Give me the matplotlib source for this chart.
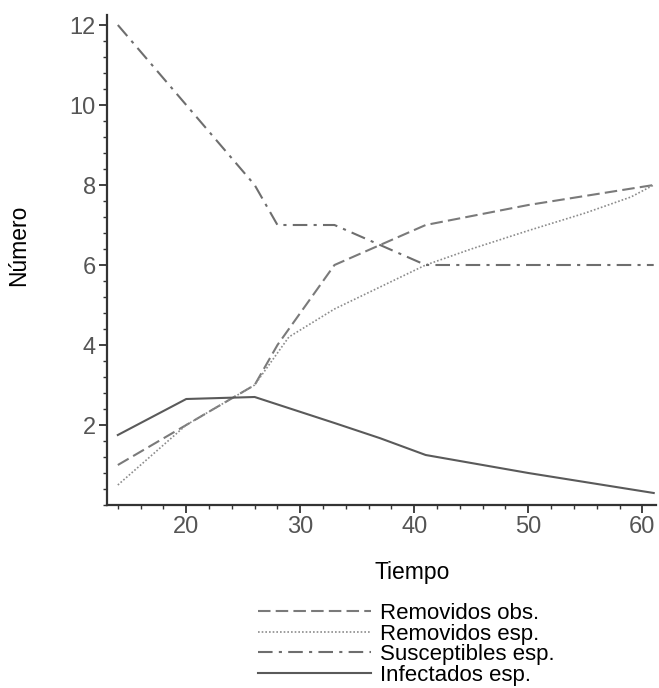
import matplotlib.pyplot as plt
from matplotlib.ticker import MultipleLocator

plt.rcParams['font.family'] = ['Liberation Sans', 'DejaVu Sans']

# Removidos observados
t_obs = [14, 20, 26, 28, 33, 41, 50, 61]
rem_obs = [1.0, 2.0, 3.0, 4.0, 6.0, 7.0, 7.5, 8.0]

# Removidos esperados
t_esp = [14, 20, 26, 29, 33, 37, 41, 45, 50, 55, 59, 61]
rem_esp = [0.5, 2.0, 3.0, 4.2, 4.9, 5.45, 6.0, 6.4, 6.86, 7.3, 7.7, 8.0]

# Susceptibles esperados
t_sus = [14, 20, 26, 28, 33, 41, 61]
sus_esp = [12.0, 10.0, 8.0, 7.0, 7.0, 6.0, 6.0]

# Infectados esperados
t_inf = [14, 20, 26, 33, 37, 41, 50, 61]
inf_esp = [1.75, 2.65, 2.7, 2.05, 1.67, 1.25, 0.8, 0.3]

fig = plt.figure(figsize=(6.59, 6.88), dpi=100)
ax = fig.add_axes([107/659, 183/688, (656-107)/659, (505-15)/688])

ax.plot(t_obs, rem_obs, color='#7a7a7a', lw=1.5, dashes=(6, 2.5), label='Removidos obs.')
ax.plot(t_esp, rem_esp, color='#8c8c8c', lw=1.2, dashes=(1, 1.2), label='Removidos esp.')
ax.plot(t_sus, sus_esp, color='#6e6e6e', lw=1.5, dashes=(7, 3, 1.5, 3), label='Susceptibles esp.')
ax.plot(t_inf, inf_esp, color='#5a5a5a', lw=1.5, label='Infectados esp.')

ax.set_xlim(13.05, 61.2)
ax.set_ylim(0, 12.25)
ax.spines['top'].set_visible(False)
ax.spines['right'].set_visible(False)
for s in ['left', 'bottom']:
    ax.spines[s].set_linewidth(1.6)
    ax.spines[s].set_color('#333333')

ax.set_xticks([20, 30, 40, 50, 60])
ax.set_yticks([2, 4, 6, 8, 10, 12])
ax.xaxis.set_minor_locator(MultipleLocator(2))
ax.yaxis.set_minor_locator(MultipleLocator(0.4))
ax.tick_params(which='major', length=6, width=1.3, color='#333333',
               labelsize=17, labelcolor='#555555', pad=2)
ax.tick_params(which='minor', length=3, width=1.0, color='#333333')

ax.set_xlabel('Tiempo', fontsize=16.5)
ax.set_ylabel('Número', fontsize=16.5)
ax.xaxis.set_label_coords(0.556, -0.115)
ax.yaxis.set_label_coords(-0.14, 0.53)

fig.legend(loc='upper left', bbox_to_anchor=(247/659, 1 - 592/688),
           frameon=False, fontsize=16, handlelength=5.1, handletextpad=0.4,
           labelspacing=-0.02, borderpad=0)

plt.savefig('out.png', dpi=100)
